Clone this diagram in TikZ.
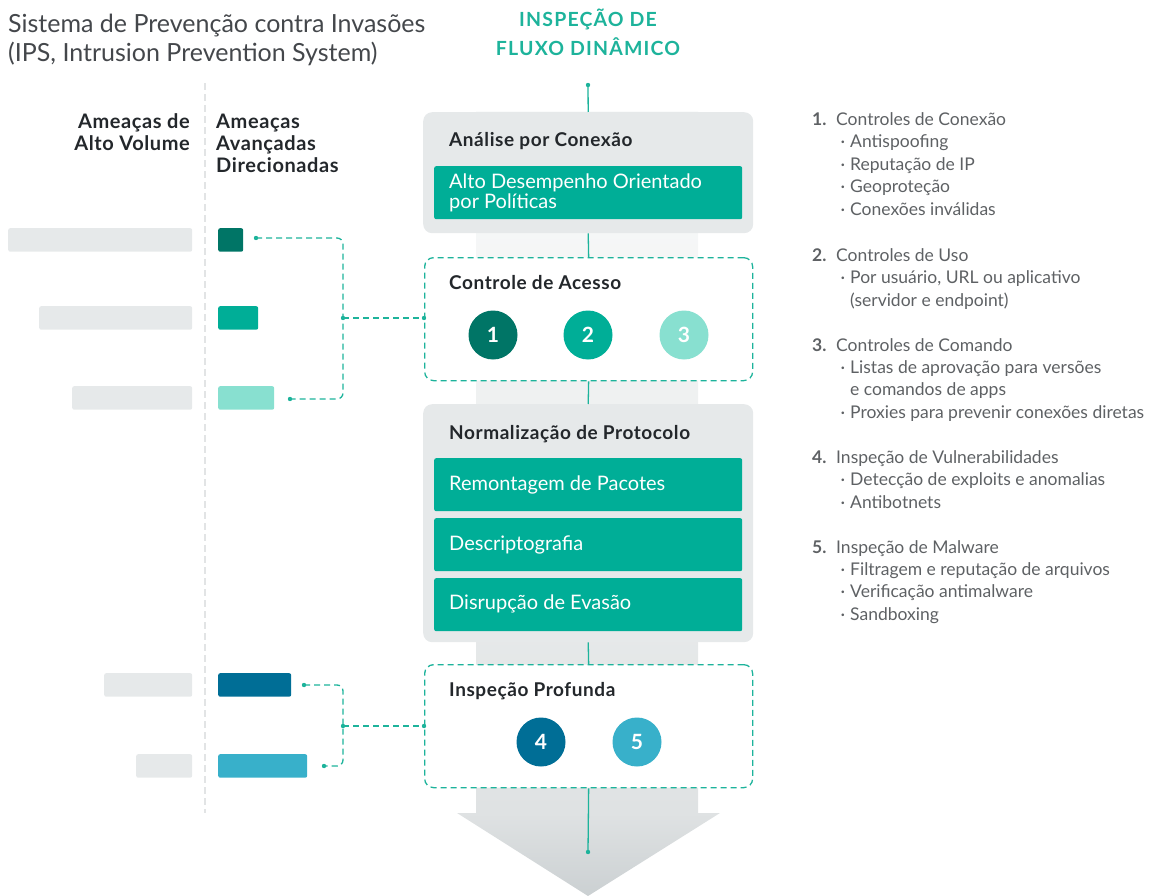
\documentclass[tikz,border=0pt]{standalone}
\usepackage{fontspec}
\setmainfont{Lato}
\usetikzlibrary{positioning}

\definecolor{ipsgreenA}{HTML}{007566}
\definecolor{ipsgreenB}{HTML}{00AE97}
\definecolor{ipsgreenC}{HTML}{88E0D0}
\definecolor{ipsblueA}{HTML}{006E96}
\definecolor{ipsblueB}{HTML}{38B0CA}
\definecolor{ipsgray}{HTML}{E6E9EA}
\definecolor{ipsline}{HTML}{1DB39B}
\definecolor{ipsdark}{HTML}{23272B}
\definecolor{ipstext}{HTML}{5E6164}
\definecolor{ipsrule}{HTML}{E2E4E5}
\definecolor{arrowtop}{HTML}{FAFBFB}
\definecolor{arrowmid}{HTML}{DFE2E3}
\definecolor{arrowend}{HTML}{CBD0D2}

\tikzset{
  stage/.style={anchor=north west, fill=ipsgray, rounded corners=9pt, minimum width=330pt},
  dashstage/.style={anchor=north west, fill=white, draw=ipsline, line width=1.3pt,
    dash pattern=on 6pt off 4pt, rounded corners=9pt, minimum width=328pt, minimum height=123pt},
  task/.style={anchor=north west, fill=ipsgreenB, rounded corners=2pt, minimum width=308pt},
  tasktext/.style={anchor=base west, inner sep=0, text=white, font=\fontsize{20}{22}\selectfont},
  heading/.style={anchor=base west, inner sep=0, text=ipsdark,
    font=\bfseries\fontsize{19}{22}\selectfont\addfontfeatures{LetterSpace=3}},
  num/.style={circle, inner sep=0, minimum size=49pt, text=white, font=\bfseries\fontsize{21}{21}\selectfont},
  bar/.style={anchor=north west, inner sep=0, rounded corners=2pt, minimum height=23.5pt},
  flow/.style={ipsline, line width=1.3pt},
  link/.style={ipsline, line width=1.3pt, dash pattern=on 6pt off 4pt, rounded corners=6pt},
  dot/.style={ipsline, radius=2.2pt},
  threat/.style={inner sep=0, text=ipsdark, font=\bfseries\fontsize{20}{22}\selectfont\addfontfeatures{LetterSpace=3}},
  listnum/.style={anchor=base west, inner sep=0, text=ipstext, font=\bfseries\fontsize{17.5}{22}\selectfont},
  listtxt/.style={anchor=base west, inner sep=0, text=ipstext, font=\fontsize{17.5}{22}\selectfont},
}

\begin{document}
\begin{tikzpicture}[x=1pt, y=-1pt]
\useasboundingbox (0,0) rectangle (1151,896);

% big arrow in the background
\shade[top color=arrowtop, bottom color=arrowmid] (476,112) rectangle (698,814);
\shade[top color=arrowmid, bottom color=arrowend] (457,813) -- (720,813) -- (588,896) -- cycle;

% titles
\node[anchor=base west, inner sep=0, text=ipsdark!85, font=\fontsize{25}{29}\selectfont] (title) at (8,33) {Sistema de Prevenção contra Invasões};
\node[anchor=base west, inner sep=0, text=ipsdark!85, font=\fontsize{25}{29}\selectfont] (subtitle) at (8,62) {(IPS, Intrusion Prevention System)};
\node[anchor=base, inner sep=0, text=ipsline, font=\bfseries\fontsize{19.5}{19}\selectfont\addfontfeatures{LetterSpace=6}] (flux1) at (588,27) {INSPEÇÃO DE};
\node[anchor=base, inner sep=0, text=ipsline, font=\bfseries\fontsize{19.5}{19}\selectfont\addfontfeatures{LetterSpace=6}] (flux2) at (588,56) {FLUXO DINÂMICO};

% stages
\node[stage, minimum height=121pt] (conexao) at (423,112) {};
\node[heading] at (449,147) {Análise por Conexão};
\node[task, minimum height=53pt] (politicas) at (434,166) {};
\node[tasktext] at (449,189) {Alto Desempenho Orientado};
\node[tasktext] at (449,208) {por Políticas};

\node[dashstage] (acesso) at (424,257) {};
\node[heading] at (449,289) {Controle de Acesso};
\node[num, fill=ipsgreenA] (n1) at (493,335) {1};
\node[num, fill=ipsgreenB] (n2) at (588,335) {2};
\node[num, fill=ipsgreenC] (n3) at (684,335) {3};

\node[stage, minimum height=238pt] (protocolo) at (423,404) {};
\node[heading] at (449,439) {Normalização de Protocolo};
\node[task, minimum height=53pt] (pacotes) at (434,458) {};
\node[tasktext] at (449,490) {Remontagem de Pacotes};
\node[task, minimum height=53pt] (cripto) at (434,518) {};
\node[tasktext] at (449,550) {Descriptografia};
\node[task, minimum height=53pt] (evasao) at (434,578) {};
\node[tasktext] at (449,609) {Disrupção de Evasão};

\node[dashstage] (profunda) at (424,664) {};
\node[heading] at (449,696) {Inspeção Profunda};
\node[num, fill=ipsblueA] (n4) at (541,742) {4};
\node[num, fill=ipsblueB] (n5) at (637,742) {5};

% flow through the stages
\coordinate (start) at (588,85);
\coordinate (finish) at (588,852);
\draw[flow] (start) -- (conexao.north);
\draw[flow] (conexao.south) -- (acesso.north);
\draw[flow] (acesso.south) -- (protocolo.north);
\draw[flow] (protocolo.south) -- (profunda.north);
\draw[flow] (profunda.south) -- (finish);
\fill[dot] (start) circle;
\fill[dot] (finish) circle;

% threat columns
\draw[ipsrule, line width=1.5pt, dash pattern=on 7pt off 4pt] (205,83) -- (205,813);
\node[threat, anchor=base east] at (190,129) {Ameaças de};
\node[threat, anchor=base east] at (190,151) {Alto Volume};
\node[threat, anchor=base west] at (216,129) {Ameaças};
\node[threat, anchor=base west] at (216,151) {Avançadas};
\node[threat, anchor=base west] at (216,173) {Direcionadas};

\node[bar, fill=ipsgray, minimum width=184pt] (v1) at (8,228) {};
\node[bar, fill=ipsgray, minimum width=153pt] (v2) at (39,306) {};
\node[bar, fill=ipsgray, minimum width=120pt] (v3) at (72,386) {};
\node[bar, fill=ipsgray, minimum width=88pt] (v4) at (104,673) {};
\node[bar, fill=ipsgray, minimum width=56pt] (v5) at (136,754) {};

\node[bar, fill=ipsgreenA, minimum width=25pt] (a1) at (218,228) {};
\node[bar, fill=ipsgreenB, minimum width=40pt] (a2) at (218,306) {};
\node[bar, fill=ipsgreenC, minimum width=56pt] (a3) at (218,386) {};
\node[bar, fill=ipsblueA, minimum width=73pt] (a4) at (218,673) {};
\node[bar, fill=ipsblueB, minimum width=89pt] (a5) at (218,754) {};

% dashed links from the threats to the stages
\coordinate (d1) at (256,238);
\coordinate (d3) at (290,399);
\coordinate (j1) at (343,318);
\coordinate (d4) at (304,685);
\coordinate (d5) at (324,766);
\coordinate (j2) at (343,726);
\draw[link] (d1) -| (j1) |- (d3);
\draw[link] (j1) -- (acesso.west |- j1);
\draw[link] (d4) -| (j2) |- (d5);
\draw[link] (j2) -- (profunda.west |- j2);
\foreach \p in {d1,d3,j1,d4,d5,j2} \fill[dot] (\p) circle;
\fill[dot] (acesso.west |- j1) circle;
\fill[dot] (profunda.west |- j2) circle;

% legend
\node[listnum] at (812,126) {1.};
\node[listtxt] at (836,126) {Controles de Conexão};
\node[listnum] at (812,261) {2.};
\node[listtxt] at (836,261) {Controles de Uso};
\node[listnum] at (812,351) {3.};
\node[listtxt] at (836,351) {Controles de Comando};
\node[listnum] at (812,463) {4.};
\node[listtxt] at (836,463) {Inspeção de Vulnerabilidades};
\node[listnum] at (812,553) {5.};
\node[listtxt] at (836,553) {Inspeção de Malware};
\foreach \y/\t in {148/Antispoofing, 171/{Reputação de IP}, 193/Geoproteção, 216/{Conexões inválidas},
    283/{Por usuário, URL ou aplicativo}, 373/{Listas de aprovação para versões},
    418/{Proxies para prevenir conexões diretas}, 485/{Detecção de exploits e anomalias},
    508/Antibotnets, 575/{Filtragem e reputação de arquivos}, 597/{Verificação antimalware},
    620/Sandboxing} {
  \node[listtxt, anchor=base] at (843,\y) {·};
  \node[listtxt] at (850,\y) {\t};
}
\node[listtxt] at (850,306) {(servidor e endpoint)};
\node[listtxt] at (850,395) {e comandos de apps};
\end{tikzpicture}
\end{document}
